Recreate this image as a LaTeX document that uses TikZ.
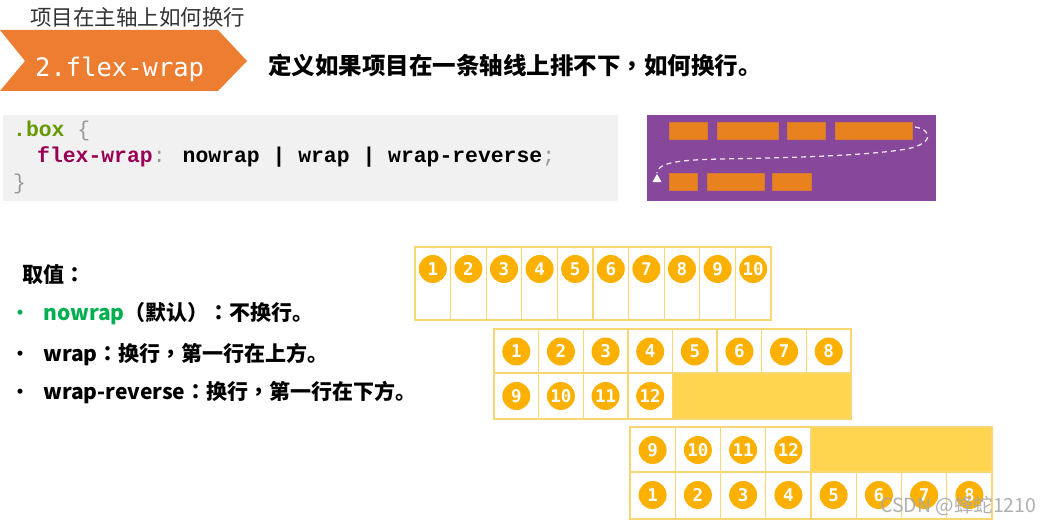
\documentclass[tikz,border=0pt]{standalone}
\usepackage{fontspec}
\setmainfont{Noto Sans CJK SC}
\newfontfamily\cjk{Noto Sans CJK SC}
\newfontfamily\cjktc{Noto Sans CJK TC}
\newfontfamily\codefont{Liberation Mono}
\newfontfamily\bannerfont{DejaVu Sans Mono}
\newfontfamily\numfont{DejaVu Sans Mono}
\newcommand{\pc}[1]{{\cjktc #1}}
\definecolor{bannerO}{HTML}{ED7D31}
\definecolor{titleG}{HTML}{333333}
\definecolor{codeBG}{HTML}{F1F1F1}
\definecolor{codeGreen}{HTML}{669900}
\definecolor{codeMag}{HTML}{990055}
\definecolor{codeGray}{HTML}{999999}
\definecolor{purp}{HTML}{87479A}
\definecolor{boxO}{HTML}{E8821E}
\definecolor{cellY}{HTML}{F8D672}
\definecolor{fillY}{HTML}{FFD54F}
\definecolor{ballY}{HTML}{FCB100}
\definecolor{greenT}{HTML}{00B050}
\definecolor{wmG}{HTML}{A8A8A8}
\begin{document}
\begin{tikzpicture}[x=1pt,y=-1pt,
  cell/.style={draw=cellY, line width=1.3pt, fill=white, inner sep=0pt, outer sep=0pt},
  outerframe/.style={draw=cellY, line width=2.4pt},
  ball/.style={circle, fill=ballY, text=white, minimum size=28pt, inner sep=0pt, font=\numfont\bfseries\fontsize{17.5}{17.5}\selectfont},
  txt/.style={anchor=base west, inner sep=0pt},
  obox/.style={fill=boxO, draw=boxO!80!purp, line width=0.4pt},
  code/.style={txt, font=\codefont\bfseries\fontsize{21.4}{24}\selectfont},
  bul/.style={txt, font=\cjk\bfseries\fontsize{21}{24}\selectfont},
  dot/.style={txt, font=\cjk\bfseries\fontsize{18}{20}\selectfont}
]
\useasboundingbox (0,0) rectangle (1044,524);
\fill[white] (0,0) rectangle (1044,524);

% title
\node[txt, font=\cjk\fontsize{21.5}{24}\selectfont, text=titleG] (title) at (30,26) {项目在主轴上如何换行};

% banner
\fill[bannerO] (0,30) -- (218,30) -- (247,61) -- (218,91) -- (0,91) -- (25,61) -- cycle;
\node[txt, font=\bannerfont\fontsize{25.5}{28}\selectfont, text=white] (bannertext) at (35,77) {2.flex-wrap};
\node[txt, font=\cjk\bfseries\fontsize{23.5}{26}\selectfont] (heading) at (268,74.5) {定义如果项目在一条轴线上排不下\pc{，}如何换行。};

% code box
\fill[codeBG] (3,115) rectangle (618,201);
\node[code] (c1) at (13,137) {\textcolor{codeGreen}{.box} {\mdseries\textcolor{codeGray}{\{}}};
\node[code] (c2) at (37,163) {\textcolor{codeMag}{flex-wrap}{\mdseries\textcolor{codeGray}{:}} nowrap | wrap | wrap-reverse{\mdseries\textcolor{codeGray}{;}}};
\node[code, text=codeGray, font=\codefont\fontsize{21.4}{24}\selectfont] (c3) at (13,189) {\}};

% purple illustration
\fill[purp] (647,115) rectangle (936,201);
\draw[obox] (669,122) rectangle (707,139);
\draw[obox] (717,122) rectangle (778,139);
\draw[obox] (787,122) rectangle (825,139);
\draw[obox] (835,122) rectangle (912,139);
\draw[obox] (669,173) rectangle (697,190);
\draw[obox] (707,173) rectangle (764,190);
\draw[obox] (772,173) rectangle (811,190);
\draw[white!85!purp, line width=1.3pt, dash pattern=on 5pt off 4pt]
  (915,127) .. controls (934,130) and (934,146) .. (900,150)
  .. controls (860,156) and (780,158) .. (720,159)
  .. controls (672,160) and (658,164) .. (657,173);
\fill[white] (652.5,182) -- (661.5,182) -- (657,174) -- cycle;

% values text
\node[txt, font=\cjk\bfseries\fontsize{21}{24}\selectfont] (qz) at (22.5,282.6) {取值\pc{：}};
\node[dot, text=greenT] (b1) at (11,319.5) {•};
\node[dot] (b2) at (11,360.5) {•};
\node[dot] (b3) at (11,398.5) {•};
\node[bul] (t1) at (43,320.6) {\textcolor{greenT}{nowrap}\pc{（}默认\pc{）：}不换行。};
\node[bul] (t2) at (43,361.6) {wrap\pc{：}换行\pc{，}第一行在上方。};
\node[bul] (t3) at (43,399.6) {wrap-reverse\pc{：}换行\pc{，}第一行在下方。};

% grid 1: nowrap
\foreach \i in {1,...,10} {
  \node[cell, minimum width=35.6pt, minimum height=73pt] (na\i) at ({415+(\i-0.5)*35.6},283.5) {};
  \node[ball] (nb\i) at ({415+(\i-0.5)*35.6},269) {\i};
}
\draw[outerframe] (415,247) rectangle (771,320);

% grid 2: wrap
\fill[fillY] ({494+4*44.625},373) rectangle (851,419);
\foreach \i in {1,...,8} {
  \node[cell, minimum width=44.625pt, minimum height=44pt] (wa\i) at ({494+(\i-0.5)*44.625},351) {};
  \node[ball] (wb\i) at ({494+(\i-0.5)*44.625},351.5) {\i};
}
\foreach \i [evaluate=\i as \n using int(\i+8)] in {1,...,4} {
  \node[cell, minimum width=44.625pt, minimum height=46pt] (wc\i) at ({494+(\i-0.5)*44.625},396) {};
  \node[ball] (wd\i) at ({494+(\i-0.5)*44.625},396) {\n};
}
\draw[outerframe] (494,329) rectangle (851,419);

% grid 3: wrap-reverse
\fill[fillY] ({630+4*45.25},427) rectangle (992,472);
\foreach \i [evaluate=\i as \n using int(\i+8)] in {1,...,4} {
  \node[cell, minimum width=45.25pt, minimum height=45pt] (ra\i) at ({630+(\i-0.5)*45.25},449.5) {};
  \node[ball] (rb\i) at ({630+(\i-0.5)*45.25},450) {\n};
}
\foreach \i in {1,...,8} {
  \node[cell, minimum width=45.25pt, minimum height=47pt] (rc\i) at ({630+(\i-0.5)*45.25},495.5) {};
  \node[ball] (rd\i) at ({630+(\i-0.5)*45.25},495) {\i};
}
\draw[outerframe] (630,427) rectangle (992,519);

% watermark
\node[txt, font=\cjk\fontsize{19.5}{22}\selectfont, text=wmG, opacity=0.9] (wm) at (880,512) {CSDN @蜂蛇1210};
\end{tikzpicture}
\end{document}
